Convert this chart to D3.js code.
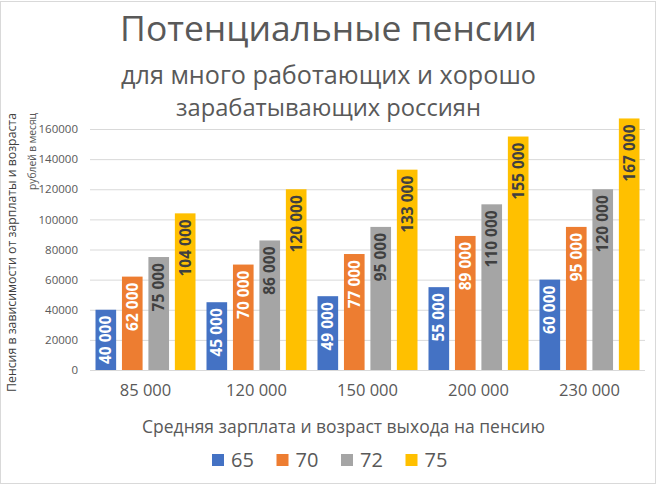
<!DOCTYPE html>
<html><head><meta charset="utf-8">
<script src="https://cdn.jsdelivr.net/npm/d3@7"></script>
<style>
html,body{margin:0;padding:0;background:#fff;}
svg{display:block;font-family:"Open Sans","Noto Sans",sans-serif;}
</style></head>
<body>
<svg id="chart" width="656" height="485"></svg>
<script>
const categories = ["85 000", "120 000", "150 000", "200 000", "230 000"];
const seriesNames = ["65", "70", "72", "75"];
const values65 = [40000, 45000, 49000, 55000, 60000];
const values70 = [62000, 70000, 77000, 89000, 95000];
const values72 = [75000, 86000, 95000, 110000, 120000];
const values75 = [104000, 120000, 133000, 155000, 167000];
const yTicks = [0, 20000, 40000, 60000, 80000, 100000, 120000, 140000, 160000];
const titleText = "Потенциальные пенсии";
const subtitleLines = ["для много работающих и хорошо", "зарабатывающих россиян"];
const yTitleLines = ["Пенсия в зависимости от зарплаты и возраста", "рублей в месяц"];
const xTitleText = "Средняя зарплата и возраст выхода на пенсию";

const seriesValues = [values65, values70, values72, values75];
const colors = ["#4472C4", "#ED7D31", "#A5A5A5", "#FFC000"];
const labelColors = ["#ffffff", "#ffffff", "#404040", "#404040"];

const svg = d3.select("#chart");
const W = 656, H = 485;

// border
svg.append("rect").attr("x", 0.5).attr("y", 1.5).attr("width", W - 1).attr("height", H - 3)
  .attr("fill", "#fff").attr("stroke", "#d9d9d9");

function fit(sel, w) {
  const n = sel.node();
  const fs = parseFloat(sel.attr("font-size"));
  const len = n.getComputedTextLength();
  if (len > 0) sel.attr("font-size", (fs * w / len).toFixed(2));
  return sel;
}

// titles
fit(svg.append("text").attr("x", 328.5).attr("y", 41).attr("text-anchor", "middle")
  .attr("font-size", 34).attr("fill", "#595959").text(titleText), 417);
const subW = [415, 305];
const subY = [84, 116];
subtitleLines.forEach((t, i) => {
  fit(svg.append("text").attr("x", 328.5).attr("y", subY[i]).attr("text-anchor", "middle")
    .attr("font-size", 24).attr("fill", "#595959").text(t), subW[i]);
});

// scales
const x0 = d3.scaleBand().domain(categories).range([90, 645]).padding(0);
const x1 = d3.scaleBand().domain(seriesNames).range([5.5, x0.bandwidth() - 5.5]).paddingInner(0.22);
const y = d3.scaleLinear().domain([0, 160000]).range([370, 129]);

// gridlines
svg.append("g").selectAll("line").data(yTicks.filter(d => d > 0)).join("line")
  .attr("x1", 90).attr("x2", 645).attr("y1", d => y(d) + 0.5).attr("y2", d => y(d) + 0.5)
  .attr("stroke", "#d9d9d9").attr("stroke-width", 1);

// y axis
const yAxis = svg.append("g").attr("transform", "translate(84,0)")
  .call(d3.axisLeft(y).tickValues(yTicks).tickSize(0).tickPadding(6).tickFormat(d3.format("d")));
yAxis.select(".domain").remove();
yAxis.selectAll("text").attr("font-size", 11.5).attr("fill", "#595959")
  .attr("font-family", "'Open Sans','Noto Sans',sans-serif");

// bars
const rows = categories.map((c, i) => ({ cat: c, vals: seriesNames.map((s, j) => ({ s, j, v: seriesValues[j][i] })) }));
const groups = svg.append("g").selectAll("g").data(rows).join("g")
  .attr("transform", d => `translate(${x0(d.cat)},0)`);
groups.selectAll("rect").data(d => d.vals).join("rect")
  .attr("x", d => x1(d.s)).attr("width", x1.bandwidth())
  .attr("y", d => y(d.v)).attr("height", d => y(0) - y(d.v))
  .attr("fill", d => colors[d.j]);

// data labels
const fmt = v => d3.format(",")(v).replace(/,/g, " ");
groups.selectAll("text").data(d => d.vals).join("text")
  .attr("transform", d => `translate(${x1(d.s) + x1.bandwidth() / 2},${y(d.v) + 6}) rotate(-90)`)
  .attr("text-anchor", "end").attr("dy", "0.35em")
  .attr("font-size", 15.5).attr("font-weight", "bold")
  .attr("fill", d => labelColors[d.j]).text(d => fmt(d.v));

// x axis
const xAxis = svg.append("g").attr("transform", "translate(0,370)")
  .call(d3.axisBottom(x0).tickSize(0).tickPadding(14));
xAxis.select(".domain").attr("stroke", "#d9d9d9").attr("d", "M90,0.5H645");
xAxis.selectAll("text").attr("font-size", 16.5).attr("fill", "#595959")
  .attr("font-family", "'Open Sans','Noto Sans',sans-serif");

// axis titles
fit(svg.append("text").attr("x", 343.5).attr("y", 433).attr("text-anchor", "middle")
  .attr("font-size", 17).attr("fill", "#595959").text(xTitleText), 403);
const yt1 = svg.append("text").attr("transform", "translate(16,113) rotate(-90)")
  .attr("text-anchor", "end").attr("font-size", 13).attr("fill", "#404040").text(yTitleLines[0]);
fit(yt1, 279);
const yt2 = svg.append("text").attr("transform", "translate(36,113) rotate(-90)")
  .attr("text-anchor", "end").attr("font-size", 11).attr("fill", "#595959").text(yTitleLines[1]);
fit(yt2, 77);

// legend
const lx = d3.scalePoint().domain(seriesNames).range([212, 405.5]);
const leg = svg.append("g").selectAll("g").data(seriesNames).join("g")
  .attr("transform", d => `translate(${lx(d)},0)`);
leg.append("rect").attr("x", 0).attr("y", 454).attr("width", 12).attr("height", 12)
  .attr("fill", (d, i) => colors[i]);
leg.append("text").attr("x", 19).attr("y", 467).attr("font-size", 20).attr("fill", "#595959").text(d => d);
</script>
</body></html>
